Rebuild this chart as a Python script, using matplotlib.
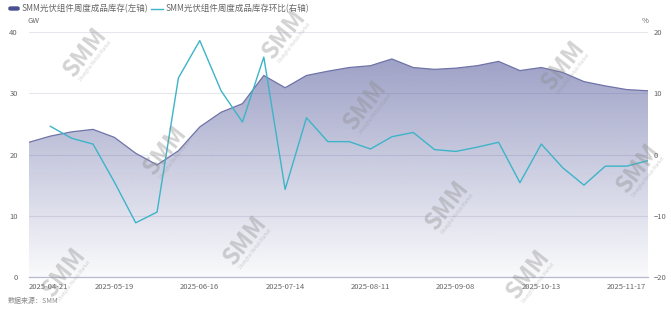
import matplotlib
matplotlib.use("Agg")
import matplotlib.pyplot as plt
import numpy as np
from matplotlib.patches import FancyBboxPatch

plt.rcParams['font.family'] = ['Noto Sans CJK SC', 'DejaVu Sans']

# weekly categories (one week skipped around Oct 6 and Nov 10)
dates = ["2025-04-21", "2025-04-28", "2025-05-05", "2025-05-12", "2025-05-19",
         "2025-05-26", "2025-06-02", "2025-06-09", "2025-06-16", "2025-06-23",
         "2025-06-30", "2025-07-07", "2025-07-14", "2025-07-21", "2025-07-28",
         "2025-08-04", "2025-08-11", "2025-08-18", "2025-08-25", "2025-09-01",
         "2025-09-08", "2025-09-15", "2025-09-22", "2025-09-29", "2025-10-13",
         "2025-10-20", "2025-10-27", "2025-11-03", "2025-11-17", "2025-11-24"]

# finished module inventory, GW (left axis)
inventory = [22.0, 23.0, 23.7, 24.1, 22.8, 20.2, 18.3, 20.6, 24.5, 26.9,
             28.3, 32.9, 30.9, 32.9, 33.6, 34.2, 34.5, 35.6, 34.2, 33.9,
             34.1, 34.5, 35.2, 33.7, 34.2, 33.4, 31.9, 31.2, 30.6, 30.4]

# week-on-week change, % (right axis); first week has no value
wow = [np.nan, 4.6, 2.65, 1.7, -4.5, -11.15, -9.4, 12.5, 18.6, 10.4,
       5.3, 15.9, -5.7, 6.0, 2.1, 2.1, 0.9, 2.9, 3.6, 0.8,
       0.5, 1.2, 2.0, -4.6, 1.7, -2.15, -5.0, -1.9, -1.9, -1.0]

label_every = 4
x = np.arange(len(dates))

fig = plt.figure(figsize=(6.71, 3.12), dpi=100)
ax = fig.add_axes([29 / 671, 35 / 312, 619 / 671, 245 / 312])
ax2 = ax.twinx()

# --- area with vertical gradient ---
ax.set_xlim(0, len(dates) - 1)
ax.set_ylim(0, 40)
poly = ax.fill_between(x, inventory, 0, color="none", lw=0)
top = max(inventory)
grad = np.linspace(0.57, 0.03, 256).reshape(-1, 1)
rgba = np.zeros((256, 1, 4))
rgba[..., 0] = 84 / 255
rgba[..., 1] = 90 / 255
rgba[..., 2] = 155 / 255
rgba[..., 3] = grad
img = ax.imshow(rgba, extent=[0, len(dates) - 1, 0, top], aspect="auto",
                origin="upper", zorder=1, interpolation="bilinear")
img.set_clip_path(poly.get_paths()[0], transform=ax.transData)
ax.plot(x, inventory, color="#6f73a8", lw=0.9, zorder=2)

ax.set_yticks([0, 10, 20, 30, 40])
ax.grid(axis="y", color="#e6e6ee", lw=0.8, zorder=0)
ax.set_axisbelow(True)
for s in ["top", "right", "left"]:
    ax.spines[s].set_visible(False)
ax.spines["bottom"].set_color("#b8b9cc")
ax.spines["bottom"].set_linewidth(0.9)
ax.tick_params(axis="y", length=0, pad=8, labelsize=5.5, labelcolor="#666666")
ax.tick_params(axis="x", length=0, pad=4, labelsize=5.5, labelcolor="#666666")
ax.set_xticks(x[::label_every])
ax.set_xticklabels(dates[::label_every])
ax.get_xticklabels()[0].set_horizontalalignment("left")

# --- week-on-week line ---
ax2.set_ylim(-20, 20)
ax2.set_yticks([-20, -10, 0, 10, 20])
ax2.plot(x, wow, color="#3db4c8", lw=1.0, zorder=3)
for s in ax2.spines.values():
    s.set_visible(False)
ax2.tick_params(axis="y", length=0, pad=4, labelsize=5.5, labelcolor="#666666")

fig.text(34 / 671, 1 - 21 / 312, "GW", fontsize=5.5, color="#666666", ha="center", va="center")
fig.text(645 / 671, 1 - 21 / 312, "%", fontsize=5.5, color="#666666", ha="center", va="center")

# --- legend ---
fig.patches.append(FancyBboxPatch((9 / 671, 1 - 10 / 312), 10 / 671, 3 / 312,
                                  boxstyle="round,pad=0,rounding_size=0.003",
                                  transform=fig.transFigure, color="#4b5190"))
fig.text(22 / 671, 1 - 8.5 / 312, "SMM光伏组件周度成品库存(左轴)", fontsize=6.1,
         color="#666666", va="center")
fig.lines.append(plt.Line2D([151 / 671, 163 / 671], [1 - 8.5 / 312, 1 - 8.5 / 312],
                            transform=fig.transFigure, color="#3db4c8", lw=1.0))
fig.text(166 / 671, 1 - 8.5 / 312, "SMM光伏组件周度成品库存环比(右轴)", fontsize=6.1,
         color="#666666", va="center")

fig.text(8 / 671, 1 - 301 / 312, "数据来源：SMM", fontsize=5, color="#888888",
         style="italic", va="center")

# --- watermarks ---
marks = [(85, 52), (284, 34), (165, 150), (245, 240), (365, 105), (447, 205),
         (563, 65), (638, 168), (64, 272), (528, 274)]
for px, py in marks:
    fig.text(px / 671, 1 - py / 312, "SMM", fontsize=17, fontweight="heavy",
             style="italic", color="#8c8c8c", alpha=0.38, rotation=52,
             ha="center", va="center", zorder=10)
    fig.text((px + 10) / 671, 1 - (py + 9) / 312, "Shanghai Metals Market", fontsize=3.2,
             color="#8c8c8c", alpha=0.38, rotation=52, ha="center", va="center", zorder=10)

fig.savefig("out.png", dpi=100)
